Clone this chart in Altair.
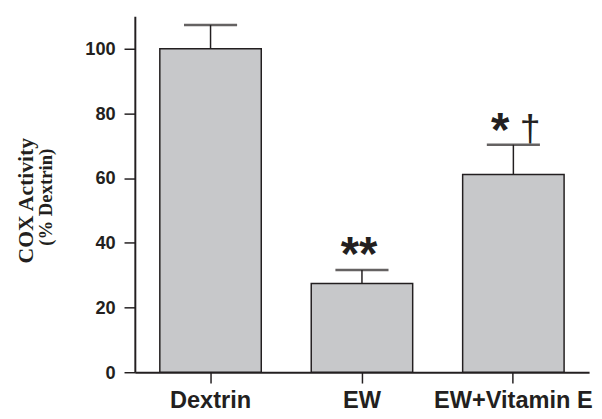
import altair as alt
import pandas as pd

groups = ["Dextrin", "EW", "EW+Vitamin E"]
values = [100.0, 27.4, 61.1]
errors = [7.3, 4.2, 9.2]
stars = ["", "**", "*"]
daggers = ["", "", "†"]
y_ticks = [0, 20, 40, 60, 80, 100]
y_title_1 = "COX Activity"
y_title_2 = "(% Dextrin)"

df = pd.DataFrame({
    "group": groups,
    "value": values,
    "err": errors,
    "star": stars,
    "dagger": daggers,
})
df["top"] = df["value"] + df["err"]

INK = "#231f20"

x_enc = alt.X(
    "group:N", sort=groups, title=None,
    scale=alt.Scale(paddingInner=0.33, paddingOuter=0.165),
    axis=alt.Axis(labelAngle=0, labelFont="Liberation Sans", labelFontWeight="bold",
                  labelFontSize=24, labelColor=INK, labelPadding=6, tickSize=11),
)
y_scale = alt.Scale(domain=[0, 110], nice=False)

base = alt.Chart(df).encode(x=x_enc)

bars = base.mark_bar(fill="#c7c8ca", stroke=INK, strokeWidth=1.5).encode(
    y=alt.Y("value:Q", scale=y_scale,
            axis=alt.Axis(values=y_ticks, title=y_title_1, titleFont="Liberation Serif",
                          titleFontWeight="bold", titleFontSize=22, titleColor=INK,
                          titleAngle=270, titleAlign="center", titleBaseline="middle",
                          titleX=-111, titleY=187,
                          labelFont="Liberation Sans", labelFontWeight="bold",
                          labelFontSize=18.5, labelColor=INK, labelPadding=9,
                          tickSize=11, grid=False))
)

err_rule = base.mark_rule(color=INK, strokeWidth=1.5).encode(
    y=alt.Y("value:Q", scale=y_scale), y2="top:Q"
)
cap = base.mark_tick(orient="horizontal", size=54, thickness=2.5, color=INK).encode(
    y=alt.Y("top:Q", scale=y_scale)
)

star_ew = base.transform_filter(alt.datum.group == "EW").mark_text(
    font="Liberation Sans", fontWeight="bold", fontSize=48, color=INK,
    baseline="alphabetic", align="center", dy=0, dx=-3
).encode(y=alt.Y("top:Q", scale=y_scale), text="star:N")

star_ve = base.transform_filter(alt.datum.group == "EW+Vitamin E").mark_text(
    font="Liberation Sans", fontWeight="bold", fontSize=48, color=INK,
    baseline="alphabetic", align="center", dy=1, dx=-13.5
).encode(y=alt.Y("top:Q", scale=y_scale), text="star:N")

dag_ve = base.transform_filter(alt.datum.group == "EW+Vitamin E").mark_text(
    font="Liberation Sans", fontWeight="normal", fontSize=38, color=INK,
    baseline="alphabetic", align="center", dy=-4, dx=17
).encode(y=alt.Y("top:Q", scale=y_scale), text="dagger:N")

title2 = alt.Chart(pd.DataFrame({"t": [y_title_2]})).mark_text(
    font="Liberation Serif", fontWeight="bold", fontSize=19, color=INK,
    angle=270, align="center", baseline="middle"
).encode(x=alt.value(-90), y=alt.value(184), text="t:N")

chart = alt.layer(bars, err_rule, cap, star_ew, star_ve, dag_ve, title2).properties(
    width=462, height=362,
    autosize=alt.AutoSizeParams(type="none"),
    padding={"left": 129, "top": 5, "right": 5, "bottom": 37},
).configure_view(stroke=None).configure_axis(
    domainColor=INK, domainWidth=2, tickColor=INK, tickWidth=1.5
)

chart.save("out.html", embed_options={"renderer": "svg", "actions": False})
